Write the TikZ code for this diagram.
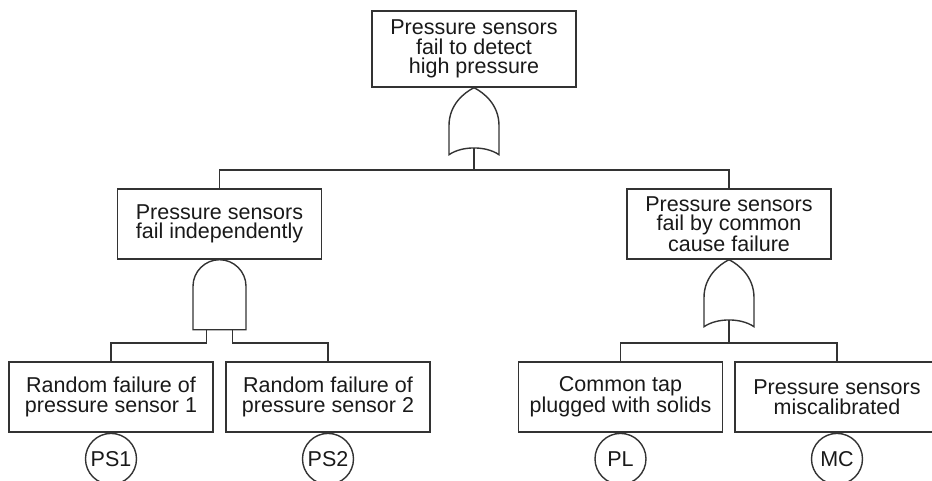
\documentclass[tikz,border=0pt]{standalone}
\usepackage{fontspec}
\setmainfont{Liberation Sans}
\usetikzlibrary{positioning}

\begin{document}
\begin{tikzpicture}[x=1pt,y=-1pt]
  % Styling
  \tikzset{
    event/.style={
      rectangle,
      minimum width=204pt,
      minimum height=70pt,
      inner sep=2pt,
      draw=black!80,
      line width=1.4pt,
      align=center,
      text=black!90,
      font=\fontsize{21.5}{19.5}\selectfont
    },
    basic/.style={
      circle,
      minimum size=51pt,
      inner sep=0pt,
      draw=black!80,
      line width=1.4pt,
      text=black!90,
      font=\fontsize{21.5}{20}\selectfont
    },
    link/.style={
      draw=black!80,
      line width=1.4pt
    },
    orgate/.pic={
      \draw[link] (-25,67) -- (-25,38)
        .. controls (-25,17) and (-10,5) .. (0,0)
        .. controls (10,5) and (25,17) .. (25,38) -- (25,67)
        .. controls (12,58) and (-12,58) .. cycle;
      \coordinate (-out) at (0,60);
    },
    andgate/.pic={
      \draw[link] (-26.5,70) -- (-26.5,26.5)
        .. controls (-26.5,12) and (-14.6,0) .. (0,0)
        .. controls (14.6,0) and (26.5,12) .. (26.5,26.5)
        -- (26.5,70) -- cycle;
      \coordinate (-l) at (-13,70);
      \coordinate (-r) at (13,70);
    }
  }
  \useasboundingbox (0,0) rectangle (932,480);

  % ===== Top event =====
  \node[event, minimum height=76pt] (top) at (474,49)
    {Pressure sensors\\fail to detect\\high pressure};
  \pic (g0) at (top.south) {orgate};
  \coordinate (bar0) at (474,170);

  % ===== Intermediate events =====
  \node[event] (indep) at (219.5,224)
    {Pressure sensors\\fail independently};
  \node[event] (ccf) at (729,224)
    {Pressure sensors\\fail by common\\cause failure};
  \pic (g1) at (indep.south) {andgate};
  \pic (g2) at (ccf.south) {orgate};
  \coordinate (bar1) at (219.5,343);
  \coordinate (bar2) at (729,343);

  % ===== Basic events =====
  \node[event] (rf1) at (111,397) {Random failure of\\pressure sensor 1};
  \node[event] (rf2) at (328,397) {Random failure of\\pressure sensor 2};
  \node[event] (tap) at (620.5,397) {Common tap\\plugged with solids};
  \node[event] (mis) at (837,397) {Pressure sensors\\miscalibrated};

  \node[basic, below=0pt of rf1] (ps1) {PS1};
  \node[basic, below=0pt of rf2] (ps2) {PS2};
  \node[basic, below=0pt of tap] (pl) {PL};
  \node[basic, below=0pt of mis] (mc) {MC};

  % Connectors
  \draw[link] (g0-out) -- (bar0);
  \draw[link] (indep.north) |- (bar0) -| (ccf.north);
  \draw[link] (g1-l) -- (g1-l |- bar1) -| (rf1.north);
  \draw[link] (g1-r) -- (g1-r |- bar1) -| (rf2.north);
  \draw[link] (g2-out) -- (bar2);
  \draw[link] (tap.north) |- (bar2) -| (mis.north);

\end{tikzpicture}
\end{document}
